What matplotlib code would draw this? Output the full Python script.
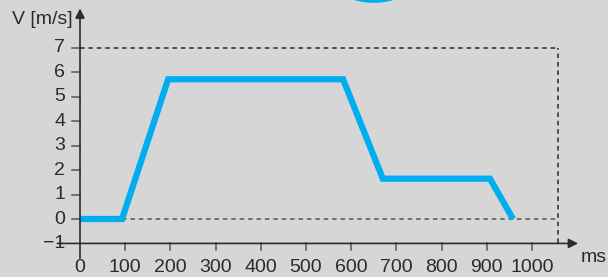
import matplotlib.pyplot as plt
from matplotlib.patches import Ellipse

# speed profile
t_ms = [0, 93, 195, 582, 670, 907, 958]
v_ms = [0, 0, 5.72, 5.72, 1.65, 1.65, 0]

x_ticks = [0, 100, 200, 300, 400, 500, 600, 700, 800, 900, 1000]
y_ticks = [-1, 0, 1, 2, 3, 4, 5, 6, 7]
y_tick_labels = ['\u22121', '0', '1', '2', '3', '4', '5', '6', '7']
box_right = 1058
box_top = 7

BG = '#d6d6d6'
INK = '#2b2b2b'
TICK = '#555555'
BLUE = '#00aeef'

plt.rcParams['font.family'] = ['Liberation Sans', 'DejaVu Sans']
FS = 14

fig = plt.figure(figsize=(6.08, 2.77), dpi=100, facecolor=BG)
ax = fig.add_axes([0, 0, 1, 1])
ax.set_facecolor(BG)
ax.set_axis_off()

# pixel mapping: x 0 -> 80px, 0.452 px/ms ; y 0 -> 219px, 24.43 px/unit
sx, x0 = 0.452, 80
sy, y0 = 24.43, 219
ax.set_xlim(-x0 / sx, (608 - x0) / sx)
ax.set_ylim(-(277 - y0) / sy, y0 / sy)

# dashed guides
dash = dict(color=INK, lw=1.1, ls=(0, (3, 2.5)))
ax.plot([0, box_right], [box_top, box_top], **dash)
ax.plot([0, box_right], [0, 0], color='#555555', lw=1.1, ls=(0, (3, 2.5)))
ax.plot([box_right, box_right], [-1, box_top], **dash)

# axes with arrows
ax.annotate('', xy=(1102, -1), xytext=(-50, -1),
            arrowprops=dict(arrowstyle='-|>', color=INK, lw=1.2, mutation_scale=14,
                            shrinkA=0, shrinkB=0))
ax.annotate('', xy=(0, 8.62), xytext=(0, -1.6),
            arrowprops=dict(arrowstyle='-|>', color=INK, lw=1.2, mutation_scale=14,
                            shrinkA=0, shrinkB=0))

# ticks
for y in y_ticks[1:]:
    ax.plot([-18, 0], [y, y], color=TICK, lw=1.1)
for x in x_ticks[1:]:
    ax.plot([x, x], [-1, -1.25], color=TICK, lw=1.1)

# tick labels
for y, lab in zip(y_ticks, y_tick_labels):
    ax.text(-33, y, lab, ha='right', va='center', fontsize=FS, color=INK)
for x in x_ticks:
    ax.text(x, -2.0, str(x), ha='center', va='center', fontsize=FS, color=INK)

ax.text(1108, -1.56, 'ms', ha='left', va='center', fontsize=FS, color=INK)
ax.text(-150, 8.15, 'V [m/s]', ha='left', va='center', fontsize=FS, color=INK)

# speed curve
ax.plot(t_ms, v_ms, color=BLUE, lw=4.5, solid_joinstyle='miter', solid_capstyle='butt')

# stray blue blob at top edge
ax.add_patch(Ellipse((650, 9.2), 116, 0.7, color=BLUE, lw=0))

fig.savefig('out.png', dpi=100, facecolor=BG)
